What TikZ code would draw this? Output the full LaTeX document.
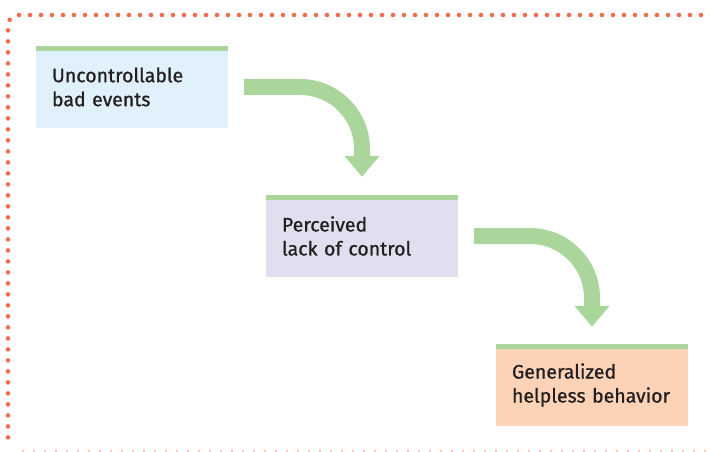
\documentclass[tikz,border=0pt]{standalone}
\usepackage{fontspec}
\setmainfont{Fira Sans}
\newfontfamily\stagefont{Fira Sans}[BoldFont={Fira Sans},BoldFeatures={FakeBold=0.9}]
\usetikzlibrary{arrows.meta,positioning}
\definecolor{leaf}{RGB}{170,214,155}
\definecolor{sky}{RGB}{224,241,251}
\definecolor{lilac}{RGB}{225,222,240}
\definecolor{peach}{RGB}{253,211,184}
\definecolor{coral}{RGB}{242,110,82}
\definecolor{blush}{RGB}{240,196,186}
\definecolor{ink}{RGB}{35,31,32}
\tikzset{
  stage/.style={fill=#1,minimum width=192pt,minimum height=82pt,inner xsep=16pt,
    text width=160pt,align=left,text=ink,font=\stagefont\bfseries\fontsize{19.5}{24}\selectfont,
    path picture={\fill[leaf] (path picture bounding box.north west)
      rectangle ([yshift=-5pt]path picture bounding box.north east);}},
  stage/.default=sky,
  flow/.style={line width=16pt,draw=leaf,rounded corners=62pt,
    -{Triangle[length=21pt,width=34pt]}},
  dotted edge/.style={draw=coral,line width=4.6pt,line cap=round,
    dash pattern=on 0pt off 11pt,rounded corners=10pt},
  faint edge/.style={draw=blush,line width=1.2pt,dash pattern=on 2pt off 9pt},
}
\begin{document}
\begin{tikzpicture}[x=1pt,y=-1pt]
  \useasboundingbox (0,0) rectangle (710,452);
  \draw[dotted edge] (712,15) -- (8,15) -- (8,448);
  \draw[faint edge] (22,451) -- (712,451);
  \node[stage=sky] (unctrl) at (132,87) {Uncontrollable\\bad events};
  \node[stage=lilac] (percv) at (362,236) {Perceived\\lack of control};
  \node[stage=peach] (helpless) at (592,385) {Generalized\\helpless behavior};
  \draw[flow] ([xshift=16pt]unctrl.east) -| ([yshift=18pt]percv.north);
  \draw[flow] ([xshift=16pt]percv.east) -| ([yshift=17pt]helpless.north);
\end{tikzpicture}
\end{document}
